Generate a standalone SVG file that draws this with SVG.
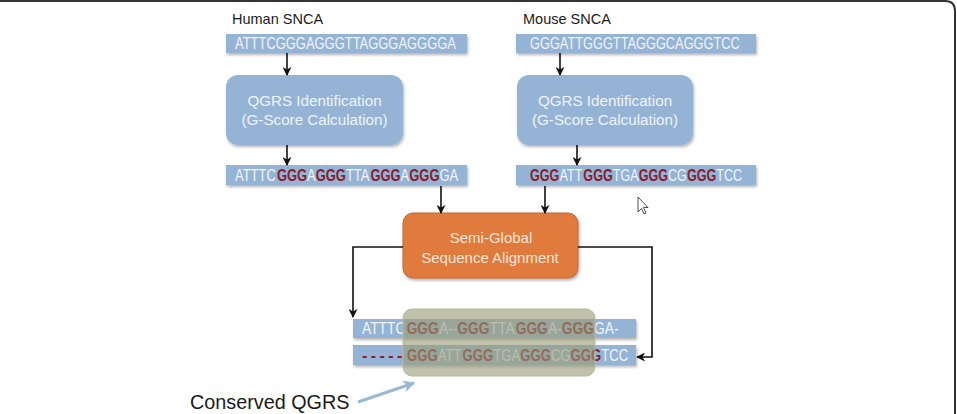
<svg xmlns="http://www.w3.org/2000/svg" width="957" height="414" viewBox="0 0 957 414">
<style>
.lbl{font-family:"Liberation Sans",Arial,sans-serif;font-size:14.5px;fill:#1a1a1a}
.seq{font-family:"Liberation Sans",Arial,sans-serif;font-size:16px;fill:#f2f5fa}
.r{fill:#8a1c2c;font-weight:bold}
.bar{fill:#95b4d5}
.box{fill:#95b4d5}
.btxt{font-family:"Liberation Sans",Arial,sans-serif;font-size:15.2px;fill:#eef3f9;text-anchor:middle}
.otxt{font-family:"Liberation Sans",Arial,sans-serif;font-size:15px;fill:#fbe6d6;text-anchor:middle}
.conn{stroke:#111;stroke-width:1.6;fill:none}
</style>
<defs>
<marker id="ah" viewBox="0 0 10 10" refX="9" refY="5" markerWidth="9" markerHeight="9" orient="auto" markerUnits="userSpaceOnUse">
<path d="M0,0 L10,5 L0,10 L3,5 Z" fill="#111"/>
</marker>
<marker id="ahb" viewBox="0 0 10 10" refX="9" refY="5" markerWidth="12" markerHeight="12" orient="auto" markerUnits="userSpaceOnUse">
<path d="M0,0 L10,5 L0,10 L3,5 Z" fill="#9ab8d4"/>
</marker>
<filter id="sh" x="-10%" y="-10%" width="130%" height="140%">
<feDropShadow dx="1" dy="2" stdDeviation="1.5" flood-color="#000" flood-opacity="0.3"/>
</filter>
</defs>
<rect width="957" height="414" fill="#fff"/>
<path d="M0,1 H945 Q955,1 955,11 V414" fill="none" stroke="#333" stroke-width="2"/>

<g id="human-label"><text class="lbl" x="232" y="24">Human SNCA</text></g>
<g id="mouse-label"><text class="lbl" x="523" y="24">Mouse SNCA</text></g>

<g id="human-seq">
<rect class="bar" x="226" y="34" width="241" height="19" filter="url(#sh)"/>
<g transform="translate(235,49) scale(0.809,1)"><text class="seq" x="0" y="0">ATTTCGGGAGGGTTAGGGAGGGGA</text></g>
</g>
<g id="mouse-seq">
<rect class="bar" x="516" y="34" width="240" height="19" filter="url(#sh)"/>
<g transform="translate(530,49) scale(0.8,1)"><text class="seq" x="0" y="0">GGGATTGGGTTAGGGCAGGGTCC</text></g>
</g>

<g id="human-qgrs">
<rect class="box" x="226" y="75" width="177" height="70" rx="12" filter="url(#sh)"/>
<text class="btxt" x="314.5" y="106">QGRS Identification</text>
<text class="btxt" x="314.5" y="125">(G-Score Calculation)</text>
</g>
<g id="mouse-qgrs">
<rect class="box" x="517" y="75" width="176" height="70" rx="12" filter="url(#sh)"/>
<text class="btxt" x="605" y="106">QGRS Identification</text>
<text class="btxt" x="605" y="125">(G-Score Calculation)</text>
</g>

<g id="human-qgrs-seq">
<rect class="bar" x="226" y="165" width="241" height="20" filter="url(#sh)"/>
<g transform="translate(235,181) scale(0.809,1)">
<text class="seq" x="0" y="0">ATTTC</text>
<text class="seq r" x="51.8" y="0">GGG</text>
<text class="seq" x="89.1" y="0">A</text>
<text class="seq r" x="99.8" y="0">GGG</text>
<text class="seq" x="137.1" y="0">TTA</text>
<text class="seq r" x="167.4" y="0">GGG</text>
<text class="seq" x="204.7" y="0">A</text>
<text class="seq r" x="215.4" y="0">GGG</text>
<text class="seq" x="252.7" y="0">GA</text>
</g>
</g>
<g id="mouse-qgrs-seq">
<rect class="bar" x="516" y="165" width="240" height="20" filter="url(#sh)"/>
<g transform="translate(530,181) scale(0.787,1)">
<text class="seq r" x="0" y="0">GGG</text>
<text class="seq" x="37.5" y="0">ATT</text>
<text class="seq r" x="67.8" y="0">GGG</text>
<text class="seq" x="105.1" y="0">TGA</text>
<text class="seq r" x="138.1" y="0">GGG</text>
<text class="seq" x="175.4" y="0">CG</text>
<text class="seq r" x="199.4" y="0">GGG</text>
<text class="seq" x="236.8" y="0">TCC</text>
</g>
</g>

<g id="alignment">
<rect x="403" y="213" width="175" height="65" rx="10" fill="#e07a3c" stroke="#c8652a" stroke-width="1" filter="url(#sh)"/>
<text class="otxt" x="491" y="243">Semi-Global</text>
<text class="otxt" x="490" y="263">Sequence Alignment</text>
</g>

<g id="aligned-human">
<rect class="bar" x="353" y="319" width="283" height="19" filter="url(#sh)"/>
<g transform="translate(362,334) scale(0.862,1)">
<text class="seq" x="0" y="0">ATTTC</text>
<text class="seq r" x="51.8" y="0">GGG</text>
<text class="seq" x="89.2" y="0">A--</text>
<text class="seq r" x="110.6" y="0">GGG</text>
<text class="seq" x="148" y="0">TTA</text>
<text class="seq r" x="178.3" y="0">GGG</text>
<text class="seq" x="215.7" y="0">A-</text>
<text class="seq r" x="231.8" y="0">GGG</text>
<text class="seq" x="269.2" y="0">GA-</text>
</g>
</g>
<g id="aligned-mouse">
<rect class="bar" x="353" y="345" width="283" height="20" filter="url(#sh)"/>
<text class="seq r" x="362" y="361" letter-spacing="3.4">-----</text>
<g transform="translate(407,361) scale(0.82,1)">
<text class="seq r" x="0" y="0">GGG</text>
<text class="seq" x="37.5" y="0">ATT</text>
<text class="seq r" x="67.8" y="0">GGG</text>
<text class="seq" x="105.1" y="0">TGA</text>
<text class="seq r" x="138.1" y="0">GGG</text>
<text class="seq" x="175.4" y="0">CG</text>
<text class="seq r" x="199.4" y="0">GGG</text>
<text class="seq" x="236.8" y="0">TCC</text>
</g>
</g>

<g id="conserved-region">
<rect x="403" y="309" width="192" height="67" rx="9" fill="#9a9c78" fill-opacity="0.62" stroke="#b8b89a" stroke-width="1"/>
</g>

<g id="conserved-label">
<text x="190" y="409" font-family="'Liberation Sans',Arial,sans-serif" font-size="19.8" fill="#1a1a1a">Conserved QGRS</text>
</g>

<g id="connectors">
<line class="conn" x1="287" y1="53" x2="287" y2="75" marker-end="url(#ah)"/>
<line class="conn" x1="287" y1="145" x2="287" y2="165" marker-end="url(#ah)"/>
<line class="conn" x1="560" y1="53" x2="560" y2="75" marker-end="url(#ah)"/>
<line class="conn" x1="577" y1="145" x2="577" y2="165" marker-end="url(#ah)"/>
<line class="conn" x1="441" y1="186" x2="441" y2="213" marker-end="url(#ah)"/>
<line class="conn" x1="545" y1="186" x2="545" y2="213" marker-end="url(#ah)"/>
<polyline class="conn" points="403,247 353,247 353,317" marker-end="url(#ah)"/>
<polyline class="conn" points="578,247 652,247 652,357 637,357" marker-end="url(#ah)"/>
<line x1="358" y1="402" x2="414" y2="383" stroke="#9ab8d4" stroke-width="3" marker-end="url(#ahb)"/>
</g>

<g id="cursor">
<path d="M638,197 L638,212 L641.5,208.5 L644,214 L646,213 L643.5,207.5 L648,207.5 Z" fill="#fff" stroke="#222" stroke-width="0.8"/>
</g>
</svg>
